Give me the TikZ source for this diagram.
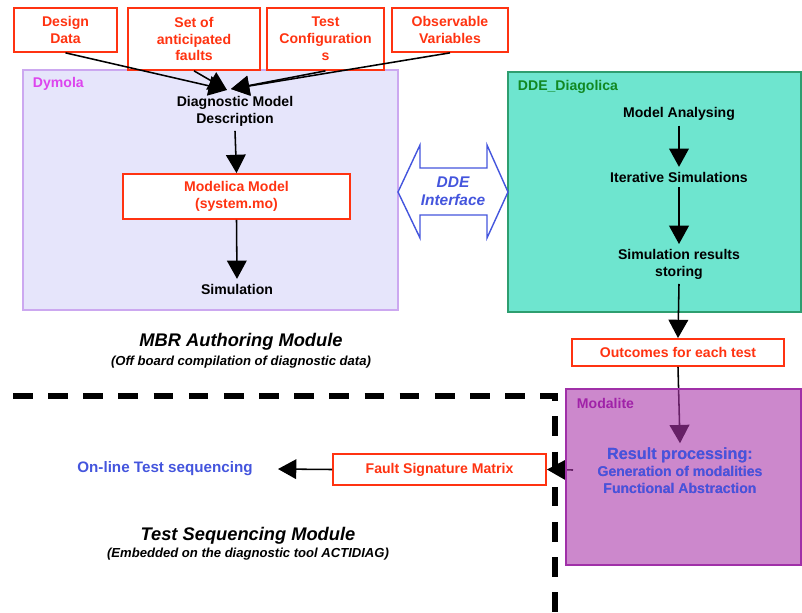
\documentclass[tikz,border=0pt]{standalone}
\usepackage{fontspec}
\setmainfont{Liberation Sans}
\usepackage{xcolor}
\usetikzlibrary{arrows.meta}
\definecolor{redc}{HTML}{FF3311}
\definecolor{dymfill}{HTML}{E6E5FB}
\definecolor{dymdraw}{HTML}{CCA8F0}
\definecolor{dymtxt}{HTML}{DD44EE}
\definecolor{ddefill}{HTML}{6EE5CF}
\definecolor{ddedraw}{HTML}{2E9E70}
\definecolor{ddetxt}{HTML}{118822}
\definecolor{modfill}{HTML}{AA38AA}
\definecolor{moddraw}{HTML}{A030A8}
\definecolor{modtxt}{HTML}{A022A8}
\definecolor{bluec}{HTML}{4455DD}

\begin{document}
\begin{tikzpicture}[x=0.025cm,y=-0.025cm,
    redbox/.style={draw=redc,line width=1.2pt,fill=white,text=redc,align=center,
      inner sep=0pt,font=\bfseries\fontsize{10}{12}\selectfont},
    txt/.style={align=center,font=\bfseries\fontsize{10}{12}\selectfont},
    lbl/.style={anchor=west,font=\bfseries\fontsize{10}{12}\selectfont},
    title/.style={font=\bfseries\itshape\fontsize{13}{15}\selectfont},
    subtitle/.style={font=\bfseries\itshape\fontsize{9.3}{11}\selectfont},
    arr/.style={line width=1.1pt,-{Triangle[width=14pt,length=13pt]}}]
  \useasboundingbox (0,0) rectangle (802,612);
      % modules
      \draw[draw=dymdraw,fill=dymfill,line width=1pt] (23,70) rectangle (398,310);
      \draw[draw=ddedraw,fill=ddefill,line width=1pt] (508,72) rectangle (801,312);
      \node[lbl,text=dymtxt] (dym) at (28,84) {Dymola};
      \node[lbl,text=ddetxt] (dde) at (513,87) {DDE\_Diagolica};
      % inputs
      \node[redbox,minimum width=2.58cm,minimum height=1.1cm] (D) at (65.5,30) {Design\\Data};
      \node[redbox,minimum width=3.3cm,minimum height=1.55cm] (S) at (194,39) {Set of\\anticipated\\faults};
      \node[redbox,minimum width=2.93cm,minimum height=1.55cm] (T) at (325.5,39) {Test\\Configuration\\s};
      \node[redbox,minimum width=2.9cm,minimum height=1.1cm] (O) at (450,30) {Observable\\Variables};
      \coordinate (tl) at (227,90);
      \coordinate (tr) at (231,89);
      \draw[arr] (D.south) -- (tl);
      \draw[arr] (S.south) -- (tl);
      \draw[arr] (T.south) -- (tr);
      \draw[arr] (O.south) -- (tr);
      % Dymola
      \node[txt] (DMD) at (235,111) {Diagnostic Model\\Description};
      \node[redbox,minimum width=5.68cm,minimum height=1.13cm] (M) at (236.5,196.5) {Modelica Model\\(system.mo)};
      \node[txt] (Sim) at (237,289) {Simulation};
      \draw[arr] (DMD.south) -- (M.north);
      \draw[arr] (M.south) -- (Sim.north);
      \node[title] (t1) at (241,342) {MBR Authoring Module};
      \node[subtitle] (s1) at (241,362) {(Off board compilation of diagnostic data)};
      % DDE interface
      \draw[draw=bluec,fill=white,line width=1pt] (398,192) -- (420,145) -- (420,168) -- (487,168)
        -- (487,145) -- (508,192) -- (487,238) -- (487,215) -- (420,215) -- (420,238) -- cycle;
      \node[align=center,text=bluec,font=\bfseries\itshape\fontsize{11}{13}\selectfont] (I) at (453,191) {DDE\\Interface};
      % DDE_Diagolica
      \node[txt] (MA) at (679,114) {Model Analysing};
      \node[txt] (IS) at (679,177) {Iterative Simulations};
      \node[txt] (SRS) at (679,264) {Simulation results\\storing};
      \node[redbox,minimum width=5.3cm,minimum height=0.68cm] (Out) at (678,352.5) {Outcomes for each test};
      \draw[arr] (MA.south) -- (IS.north);
      \draw[arr] (IS.south) -- (SRS.north);
      \draw[arr] (SRS.south) -- (Out.north);
      % Modalite
      \node[align=center,text=bluec,font=\bfseries\fontsize{10}{12}\selectfont] (RP) at (680,471)
        {{\fontsize{11.5}{13}\selectfont Result processing:}\\Generation of modalities\\Functional Abstraction};
      \node[redbox,minimum width=5.33cm,minimum height=0.78cm] (F) at (439.5,469.5) {Fault Signature Matrix};
      \coordinate (m) at (573,470);
      \draw[arr] (Out.south) -- (RP.north);
      \draw[arr] (m) -- (F.east);
      \draw[draw=moddraw,fill=modfill,fill opacity=0.6,line width=1pt] (566,389) rectangle (801,565);
      \node[align=center,text=bluec,font=\bfseries\fontsize{10}{12}\selectfont] at (RP) 
        {{\fontsize{11.5}{13}\selectfont Result processing:}\\Generation of modalities\\Functional Abstraction};
      \node[lbl,text=modtxt] (mod) at (572,403) {Modalite};
      % test sequencing
      \node[text=bluec,font=\bfseries\fontsize{10.8}{13}\selectfont] (OTS) at (165,469) {On-line Test sequencing};
      \coordinate (o) at (278,469);
      \draw[arr] (F.west) -- (o);
      \draw[line width=3.6pt,dash pattern=on 14pt off 11pt] (13,396) -- (555,396) -- (555,612);
      \node[title] (t2) at (248,536) {Test Sequencing Module};
      \node[subtitle] (s2) at (248,554) {(Embedded on the diagnostic tool ACTIDIAG)};
\end{tikzpicture}
\end{document}
